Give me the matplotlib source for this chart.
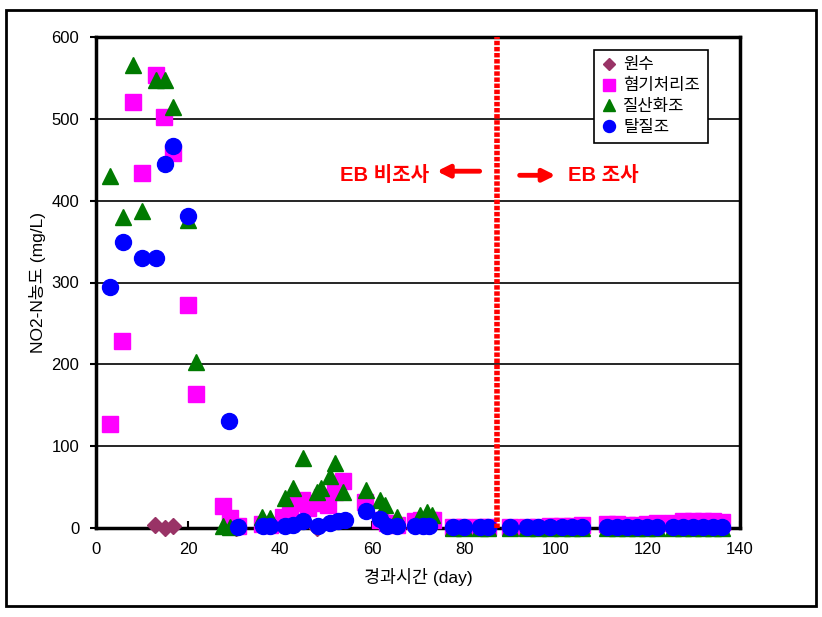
import matplotlib
matplotlib.use('Agg')
import matplotlib.pyplot as plt
from matplotlib.patches import Rectangle

plt.rcParams['font.family'] = ['Liberation Sans', 'Noto Sans CJK KR']

# ---- data ----
raw_x = [12.8, 15.0, 16.8, 30.4, 48.0]
raw_y = [4, 0, 3, 0, 0]

anaer_x = [3.0, 5.7, 8.0, 9.9, 13.0, 14.8, 16.8, 19.9, 21.7,
           27.7, 29.1, 30.9,
           36.0, 37.8, 40.7, 42.2, 43.5, 44.7, 46.0, 48.0, 49.2, 50.5, 52.0, 53.8,
           58.5, 61.7, 63.2, 65.4,
           69.3, 70.7, 72.4, 73.3,
           77.7, 79.9, 83.5, 85.3,
           90.0, 93.6, 96.1, 98.7, 101.2, 103.4, 105.6,
           111.0, 113.2, 115.4, 117.5, 119.7, 121.9,
           125.5, 127.7, 129.8, 132.0, 134.2, 136.0]
anaer_y = [127, 229, 520, 434, 554, 502, 458, 272, 164,
           27, 12, 2,
           5, 4, 14, 22, 30, 34, 25, 30, 38, 28, 44, 57,
           32, 10, 6, 4,
           8, 10, 10, 10,
           1, 1, 1, 1,
           1, 1, 1, 2, 2, 2, 4,
           5, 5, 4, 4, 5, 6,
           6, 8, 8, 9, 8, 7]

nitr_x = [3.0, 5.8, 8.0, 9.9, 13.0, 15.0, 16.8, 19.9, 21.7,
          27.7, 29.1,
          36.0, 37.8, 41.1, 42.9, 45.0, 48.0, 49.0, 50.9, 52.0, 53.7,
          58.7, 61.7, 62.8, 65.4, 70.4, 71.9, 73.0,
          77.7, 79.9, 83.5, 85.3, 90.0, 93.6, 96.1, 98.7, 101.2, 103.4, 105.6,
          111.0, 113.2, 115.4, 117.5, 119.7, 121.9,
          125.5, 127.7, 129.8, 132.0, 134.2, 136.0]
nitr_y = [430, 380, 566, 387, 547, 547, 515, 376, 203,
          2, 1,
          14, 12, 37, 49, 86, 44, 49, 64, 80, 44,
          46, 34, 28, 14, 16, 20, 16,
          0, 0, 0, 0, 0, 0, 0, 0, 0, 0, 0,
          0, 0, 0, 0, 0, 0,
          0, 0, 0, 0, 0, 0]

denit_x = [3.0, 5.8, 9.9, 13.0, 14.9, 16.8, 19.9, 29.0,
           30.9, 36.4, 37.8, 41.1, 42.9, 45.0, 48.3, 50.9, 52.7, 54.1,
           58.7, 61.7, 63.2, 65.4, 69.3, 71.0, 72.4,
           77.7, 79.9, 83.5, 85.3, 90.0, 93.6, 96.1, 98.7, 101.2, 103.4, 105.6,
           111.0, 113.2, 115.4, 117.5, 119.7, 121.9,
           125.5, 127.7, 129.8, 132.0, 134.2, 136.0]
denit_y = [295, 350, 330, 330, 445, 467, 381, 131,
           1, 2, 2, 2, 4, 9, 3, 6, 8, 10,
           21, 11, 3, 2, 2, 2, 2,
           1, 1, 1, 1, 1, 1, 1, 1, 1, 1, 1,
           1, 1, 1, 1, 1, 1,
           1, 1, 1, 1, 1, 1]

labels = ['원수', '혐기처리조', '질산화조', '탈질조']
xticks = [0, 20, 40, 60, 80, 100, 120, 140]
yticks = [0, 100, 200, 300, 400, 500, 600]
eb_day = 87.2

# ---- figure ----
fig = plt.figure(figsize=(8.22, 6.17), dpi=100)
ax = fig.add_axes([96/822, 89/617, 644/822, 491/617])

ax.plot(raw_x, raw_y, ls='none', marker='D', ms=8, color='#993366', label=labels[0], clip_on=False, zorder=3)
ax.plot(anaer_x, anaer_y, ls='none', marker='s', ms=11, color='#FF00FF', label=labels[1], clip_on=False, zorder=4)
ax.plot(nitr_x, nitr_y, ls='none', marker='^', ms=12, color='#007A00', label=labels[2], clip_on=False, zorder=5)
ax.plot(denit_x, denit_y, ls='none', marker='o', ms=11.5, color='#0000FF', label=labels[3], clip_on=False, zorder=6)

ax.set_xlim(0, 140)
ax.set_ylim(0, 600)
ax.set_xticks(xticks)
ax.set_yticks(yticks)
ax.tick_params(axis='both', labelsize=12, width=1.5, color='black')
ax.tick_params(axis='x', direction='in', length=5, pad=10)
ax.tick_params(axis='y', direction='out', length=4, pad=8)
ax.yaxis.grid(True, color='black', lw=1.2)
ax.set_axisbelow(True)
for s in ax.spines.values():
    s.set_linewidth(2.5)
    s.set_color('black')

ax.set_xlabel('경과시간 (day)', fontsize=12.5, labelpad=8)
ax.set_ylabel('NO2-N농도 (mg/L)', fontsize=12.5, labelpad=4)

ax.axvline(eb_day, color='red', lw=4, ls=(0, (0.8, 0.3)), zorder=7)

ax.text(53, 431, 'EB 비조사', color='red', fontsize=14.5, fontweight='bold', va='center', ha='left')
ax.annotate('', xy=(73.5, 436), xytext=(84, 436),
            arrowprops=dict(arrowstyle='-|>', color='red', lw=3.5, mutation_scale=18))
ax.annotate('', xy=(100.5, 431), xytext=(91.5, 431),
            arrowprops=dict(arrowstyle='-|>', color='red', lw=3.5, mutation_scale=18))
ax.text(102.6, 431, 'EB 조사', color='red', fontsize=14.5, fontweight='bold', va='center', ha='left')

leg = ax.legend(loc='upper left', bbox_to_anchor=(594/822, 1 - 50/617), bbox_transform=fig.transFigure,
                borderaxespad=0, fancybox=False, framealpha=1, edgecolor='black', fontsize=12,
                handlelength=0.9, handletextpad=0.4, labelspacing=0.35, borderpad=0.45, markerscale=0.75)
leg.get_frame().set_linewidth(1.2)
leg.set_zorder(10)

fig.add_artist(Rectangle((6/822, 11/617), 810/822, 596/617, transform=fig.transFigure,
                         fill=False, lw=2, ec='black'))

fig.savefig('out.png', dpi=100)
